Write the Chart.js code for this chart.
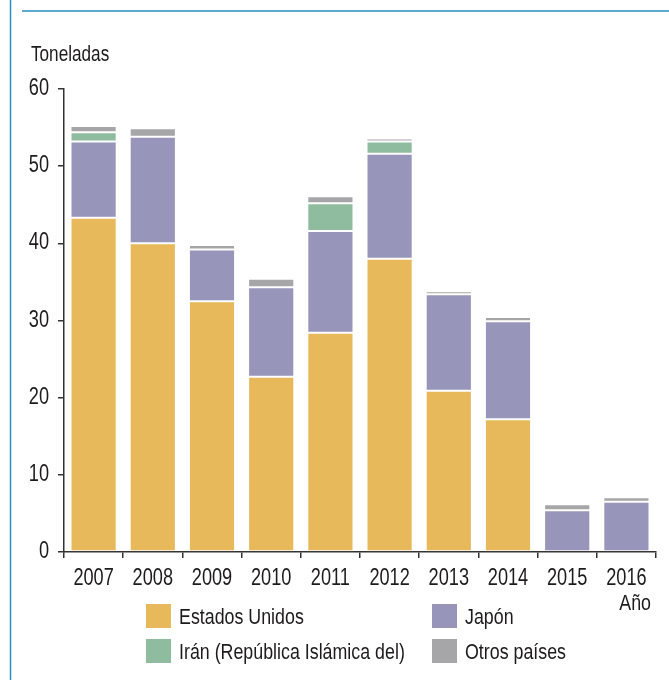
<!DOCTYPE html>
<html>
<head>
<meta charset="utf-8">
<script src="https://cdn.jsdelivr.net/npm/chart.js@4/dist/chart.umd.min.js"></script>
<style>
  html, body { margin: 0; padding: 0; background: #fff; }
  canvas { display: block; }
</style>
</head>
<body>
<canvas id="chart" width="669" height="684"></canvas>
<script>
const years = ['2007', '2008', '2009', '2010', '2011', '2012', '2013', '2014', '2015', '2016'];
const estadosUnidos = [43.3, 40.0, 32.5, 22.7, 28.4, 38.0, 20.9, 17.2, 0, 0];
const japon = [9.9, 13.8, 6.7, 11.6, 13.2, 13.6, 12.5, 12.7, 5.4, 6.5];
const iran = [1.2, 0, 0, 0, 3.6, 1.6, 0, 0, 0, 0];
const otros = [0.8, 1.1, 0.6, 1.1, 0.9, 0.4, 0.4, 0.55, 0.8, 0.6];
const yTicks = [0, 10, 20, 30, 40, 50, 60];

const FONT = "'Liberation Sans', Arial, sans-serif";
const TXT = '#1e1b1c';
const BLUE = '#2b8fc3';

// the original uses a condensed face: draw a normal one narrower
function narrowText(ctx, text, x, y, align, size, squeeze) {
    ctx.save();
    ctx.font = size + 'px ' + FONT;
    ctx.fillStyle = TXT;
    ctx.textAlign = align;
    ctx.textBaseline = 'alphabetic';
    ctx.translate(x, y);
    ctx.scale(squeeze, 1);
    ctx.fillText(text, 0, 0);
    ctx.restore();
}

const decor = {
    id: 'decor',
    afterDraw(chart) {
        const ctx = chart.ctx;
        ctx.save();
        ctx.strokeStyle = BLUE;
        ctx.lineWidth = 1.5;
        ctx.beginPath();
        ctx.moveTo(10.5, 0); ctx.lineTo(10.5, 680);
        ctx.moveTo(22, 11); ctx.lineTo(669, 11);
        ctx.stroke();
        ctx.restore();

        // tick labels, placed by the library's scales
        const xs = chart.scales.x, ys = chart.scales.y;
        xs.ticks.forEach((t, i) => {
            narrowText(ctx, xs.getLabelForValue(t.value), xs.getPixelForTick(i), 585, 'center', 23, 0.79);
        });
        ys.ticks.forEach((t, i) => {
            narrowText(ctx, String(t.value), 49, ys.getPixelForTick(i) + 6, 'right', 23, 0.79);
        });

        narrowText(ctx, 'Toneladas', 31, 61, 'left', 22, 0.78);
        narrowText(ctx, 'Año', 651, 610, 'right', 22, 0.81);

        const pos = [[146, 604], [432, 604], [146, 639], [432, 639]];
        chart.data.datasets.forEach((ds, i) => {
            const [x, y] = pos[i];
            ctx.fillStyle = ds.backgroundColor;
            ctx.fillRect(x, y, 25, 24);
            narrowText(ctx, ds.label, x + 33, y + 20, 'left', 22, 0.81);
        });
    }
};

new Chart(document.getElementById('chart'), {
    type: 'bar',
    data: {
        labels: years,
        datasets: [
            { label: 'Estados Unidos', data: estadosUnidos, backgroundColor: '#e8b95b' },
            { label: 'Japón', data: japon, backgroundColor: '#9795ba' },
            { label: 'Irán (República Islámica del)', data: iran, backgroundColor: '#8fbb9e' },
            { label: 'Otros países', data: otros, backgroundColor: '#a6a6a9' }
        ].map(d => Object.assign(d, {
            borderColor: 'rgba(255,255,255,0.45)',
            borderWidth: 1,
            borderSkipped: false,
            barPercentage: 0.78,
            categoryPercentage: 1
        }))
    },
    options: {
        responsive: false,
        animation: false,
        layout: { padding: { left: 0, top: 89, right: 13, bottom: 92 } },
        plugins: { legend: { display: false }, tooltip: { enabled: false } },
        scales: {
            x: {
                stacked: true,
                afterFit: s => { s.height = 40; },
                grid: { display: true, drawOnChartArea: false, offset: true, tickLength: 6, color: '#333', lineWidth: 1.5 },
                border: { display: true, color: '#333', width: 1.5 },
                ticks: { color: 'rgba(0,0,0,0)', font: { family: FONT, size: 22 }, padding: 3, maxRotation: 0, autoSkip: false }
            },
            y: {
                stacked: true,
                min: 0,
                max: 60,
                afterFit: s => { s.width = 64; },
                afterBuildTicks: s => { s.ticks = yTicks.map(v => ({ value: v })); },
                grid: { display: true, drawOnChartArea: false, tickLength: 6, color: '#333', lineWidth: 1.5 },
                border: { display: true, color: '#333', width: 1.5 },
                ticks: { color: 'rgba(0,0,0,0)', font: { family: FONT, size: 22 }, padding: 9 }
            }
        }
    },
    plugins: [decor]
});
</script>
</body>
</html>
